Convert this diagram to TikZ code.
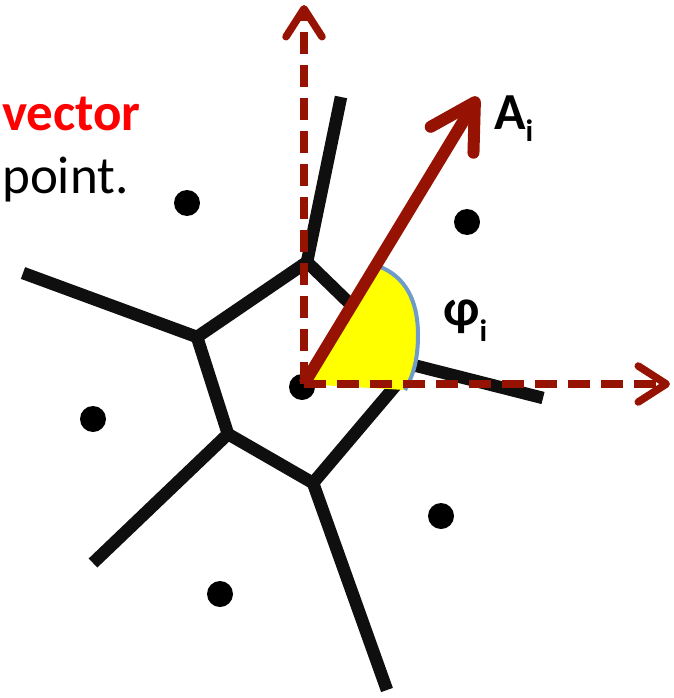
\documentclass[tikz,border=0pt]{standalone}
\usepackage{fontspec}
\setmainfont{Carlito}
\usetikzlibrary{arrows.meta}
\definecolor{arrowred}{RGB}{150,18,2}
\definecolor{sectyellow}{RGB}{255,255,0}
\definecolor{sectblue}{RGB}{110,155,200}
\definecolor{edgeblack}{RGB}{15,15,15}
\begin{document}
\begin{tikzpicture}[x=1pt,y=-1pt,
  vedge/.style={line width=12.5pt, draw=edgeblack, line join=miter},
  site/.style={circle, fill=black, inner sep=0pt, minimum size=26pt},
  axisarrow/.style={draw=arrowred, line width=7.5pt, dash pattern=on 22pt off 11pt,
    -{Straight Barb[length=28pt,width=36pt,round]}},
  vecarrow/.style={draw=arrowred, line width=12pt,
    -{Straight Barb[length=44pt,width=50pt,round]}},
  lbl/.style={anchor=base west, inner sep=0pt},
  bigbold/.style={font=\fontsize{52}{60}\selectfont\bfseries}
]
\useasboundingbox (0,0) rectangle (673,698);
% Voronoi vertices and edge ends
\coordinate (v1) at (307,262);
\coordinate (v2) at (197,337);
\coordinate (v3) at (228,434);
\coordinate (v4) at (313,483);
\coordinate (v5) at (413,365);
\coordinate (e1) at (341,97);
\coordinate (e2) at (23,273);
\coordinate (e3) at (93,563);
\coordinate (e4) at (387,690);
\coordinate (e5) at (543,398);
% cell edges
\draw[vedge] (v1) -- (v2) -- (v3) -- (v4) -- (v5) -- cycle;
\draw[vedge] (v1) -- (e1);
\draw[vedge] (v2) -- (e2);
\draw[vedge] (v3) -- (e3);
\draw[vedge] (v4) -- (e4);
\draw[vedge] (v5) -- (e5);
% sites
\node[site] (s1) at (187,203) {};
\node[site] (s2) at (467,222) {};
\node[site] (s3) at (302,387) {};
\node[site] (s4) at (93,419) {};
\node[site] (s5) at (441,516) {};
\node[site] (s6) at (220,594) {};
% angle sector
\coordinate (o) at (304,384);
\coordinate (a1) at (378,266);
\coordinate (a2) at (418,335);
\coordinate (a3) at (405,390);
\fill[sectyellow] (o) -- (a1) .. controls (405,276) and (418,300) .. (a2)
  .. controls (418,360) and (413,376) .. (a3) -- cycle;
\draw[sectblue, line width=4pt] (a1) .. controls (405,276) and (418,300) .. (a2)
  .. controls (418,360) and (413,376) .. (a3);
% axes and vector
\coordinate (ytip) at (304,5);
\coordinate (xtip) at (670,384);
\coordinate (atip) at (478,97);
\draw[axisarrow] (o) -- (ytip);
\draw[axisarrow] (o) -- (xtip);
\draw[vecarrow] (o) -- (atip);
% labels
\node[lbl, text=red, font=\fontsize{53}{62}\selectfont\bfseries] (vec) at (2,130) {vector};
\node[lbl, font=\fontsize{53}{62}\selectfont] (pt) at (2,193) {point.};
\node[lbl, bigbold] (alab) at (494,129) {A\raisebox{-12pt}{\fontsize{31}{34}\selectfont i}};
\node[lbl, bigbold] (philab) at (443,325) {φ\raisebox{-16pt}{\fontsize{31}{34}\selectfont i}};
\end{tikzpicture}
\end{document}
